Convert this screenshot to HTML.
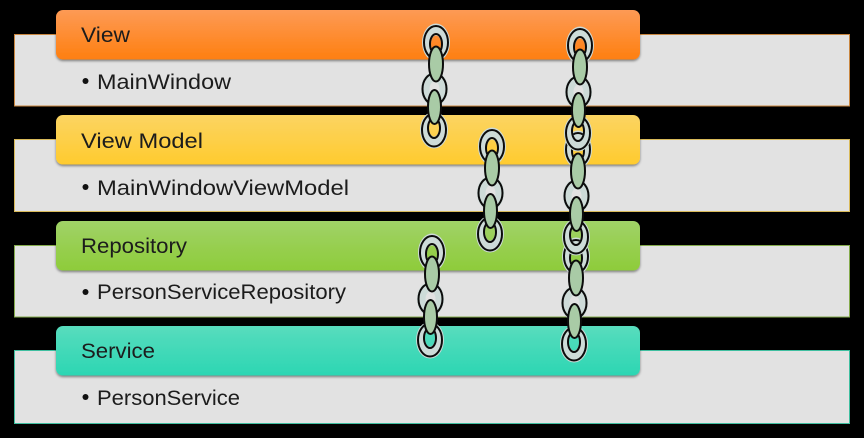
<!DOCTYPE html>
<html lang="en">
<head>
<meta charset="utf-8">
<title>Layered architecture diagram</title>
<style>
html,body{margin:0;padding:0;background:#000;width:864px;height:438px;overflow:hidden}
svg{display:block}
text{font-family:"Liberation Sans",sans-serif;font-size:21px;fill:#1c1c1c}
</style>
</head>
<body>
<svg width="864" height="438" viewBox="0 0 864 438" xmlns="http://www.w3.org/2000/svg">
<defs>
<linearGradient id="g-orange" x1="0" y1="0" x2="0" y2="1"><stop offset="0" stop-color="#fd9a55"/><stop offset="1" stop-color="#fe7f10"/></linearGradient>
<linearGradient id="g-yellow" x1="0" y1="0" x2="0" y2="1"><stop offset="0" stop-color="#fbd462"/><stop offset="1" stop-color="#ffcb2e"/></linearGradient>
<linearGradient id="g-green" x1="0" y1="0" x2="0" y2="1"><stop offset="0" stop-color="#a0d267"/><stop offset="1" stop-color="#8ecc3a"/></linearGradient>
<linearGradient id="g-teal" x1="0" y1="0" x2="0" y2="1"><stop offset="0" stop-color="#58dcbd"/><stop offset="1" stop-color="#2cd6b3"/></linearGradient>
<filter id="hdr-shadow" x="-5%" y="-10%" width="110%" height="130%"><feDropShadow dx="0" dy="1.5" stdDeviation="1.4" flood-color="#000" flood-opacity=".45"/></filter>
<g id="chain">
  <path fill="#cddbd8" fill-rule="evenodd" d="M-14 18.5a14 19 0 1 0 28 0a14 19 0 1 0-28 0ZM-5 20a5 8.5 0 1 0 10 0a5 8.5 0 1 0-10 0Z"/>
  <ellipse cx="0" cy="18.5" rx="12" ry="16.5" fill="none" stroke="#0c0c0c" stroke-width="2"/>
  <ellipse cx="0" cy="20" rx="6" ry="10" fill="none" stroke="#0c0c0c" stroke-width="2"/>
  <path fill="#cddbd8" fill-rule="evenodd" d="M-15 65a13.5 17.5 0 1 0 27 0a13.5 17.5 0 1 0-27 0ZM-6.5 65a5 7.5 0 1 0 10 0a5 7.5 0 1 0-10 0Z"/>
  <ellipse cx="-1.5" cy="65" rx="12" ry="15.5" fill="none" stroke="#0c0c0c" stroke-width="2"/>
  <path fill="#cddbd8" fill-rule="evenodd" d="M-16 106a14 18.5 0 1 0 28 0a14 18.5 0 1 0-28 0ZM-7 104a5 8.5 0 1 0 10 0a5 8.5 0 1 0-10 0Z"/>
  <ellipse cx="-2" cy="106" rx="12" ry="16.5" fill="none" stroke="#0c0c0c" stroke-width="2"/>
  <ellipse cx="-2" cy="104" rx="6" ry="10" fill="none" stroke="#0c0c0c" stroke-width="2"/>
  <ellipse cx="0" cy="40" rx="7" ry="17.5" fill="#a9cba6" stroke="#0c0c0c" stroke-width="2"/>
  <ellipse cx="-1.5" cy="83" rx="6.5" ry="17" fill="#a9cba6" stroke="#0c0c0c" stroke-width="2"/>
</g>
</defs>

<g>
  <rect x="14.5" y="34.5" width="835" height="71.5" fill="#e2e2e2" stroke="#c9863f"/>
  <rect x="56" y="10" width="584" height="49.5" rx="7" fill="url(#g-orange)" filter="url(#hdr-shadow)"/>
  <text x="81" y="42" textLength="49" lengthAdjust="spacingAndGlyphs">View</text>
  <circle cx="85.5" cy="81" r="3" fill="#111"/>
  <text x="97" y="89" textLength="134" lengthAdjust="spacingAndGlyphs">MainWindow</text>
</g>
<g>
  <rect x="14.5" y="139.5" width="835" height="72" fill="#e2e2e2" stroke="#d9ba5a"/>
  <rect x="56" y="115" width="584" height="49.5" rx="7" fill="url(#g-yellow)" filter="url(#hdr-shadow)"/>
  <text x="81" y="148" textLength="122" lengthAdjust="spacingAndGlyphs">View Model</text>
  <circle cx="85.5" cy="187" r="3" fill="#111"/>
  <text x="97" y="195" textLength="252" lengthAdjust="spacingAndGlyphs">MainWindowViewModel</text>
</g>
<g>
  <rect x="14.5" y="245.5" width="835" height="71.5" fill="#e2e2e2" stroke="#84ab4c"/>
  <rect x="56" y="221" width="584" height="49.5" rx="7" fill="url(#g-green)" filter="url(#hdr-shadow)"/>
  <text x="81" y="253" textLength="106" lengthAdjust="spacingAndGlyphs">Repository</text>
  <circle cx="85.5" cy="292" r="3" fill="#111"/>
  <text x="97" y="299" textLength="249" lengthAdjust="spacingAndGlyphs">PersonServiceRepository</text>
</g>
<g>
  <rect x="14.5" y="350.5" width="835" height="73" fill="#e2e2e2" stroke="#3fbfa0"/>
  <rect x="56" y="326" width="584" height="49.5" rx="7" fill="url(#g-teal)" filter="url(#hdr-shadow)"/>
  <text x="81" y="358" textLength="74" lengthAdjust="spacingAndGlyphs">Service</text>
  <circle cx="85.5" cy="397" r="3" fill="#111"/>
  <text x="97" y="405" textLength="143" lengthAdjust="spacingAndGlyphs">PersonService</text>
</g>

<use href="#chain" x="436" y="24"/>
<use href="#chain" x="492" y="128"/>
<use href="#chain" x="432" y="234"/>
<use href="#chain" x="576" y="238"/>
<use href="#chain" x="578" y="131"/>
<use href="#chain" x="580" y="27"/>
</svg>
</body>
</html>
